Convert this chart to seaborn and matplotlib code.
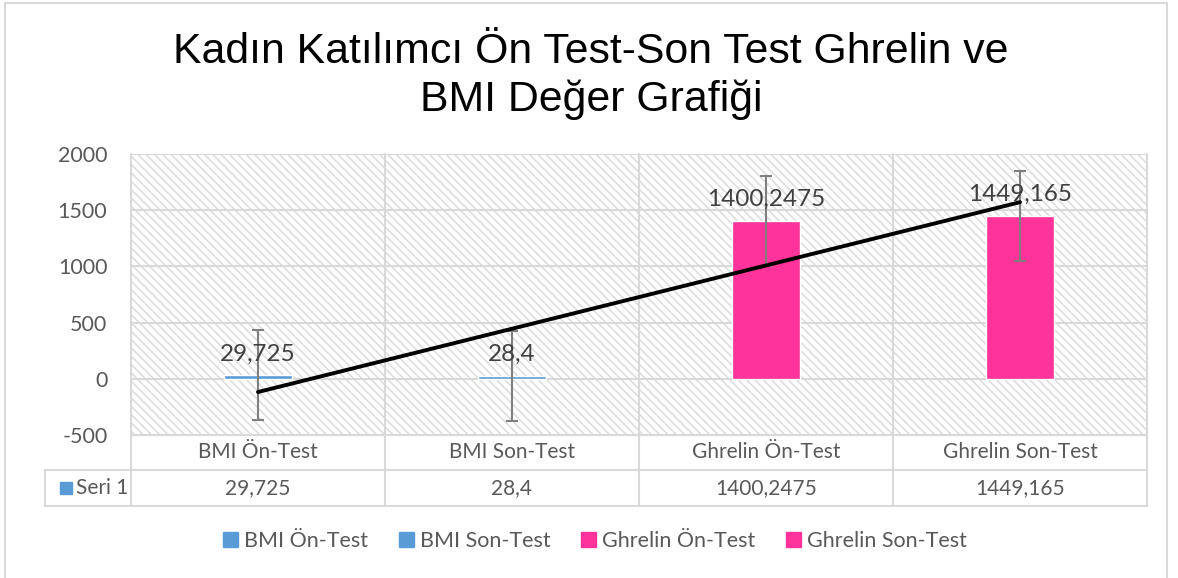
import numpy as np
import matplotlib.pyplot as plt
import seaborn as sns
from matplotlib.patches import Rectangle, Patch
from matplotlib import transforms

# values
categories = ['BMI Ön-Test', 'BMI Son-Test', 'Ghrelin Ön-Test', 'Ghrelin Son-Test']
values = [29.725, 28.4, 1400.2475, 1449.165]
value_labels = ['29,725', '28,4', '1400,2475', '1449,165']
errors = [400, 400, 400, 400]
bar_colors = ['#5b9bd5', '#5b9bd5', '#ff3399', '#ff3399']
series_name = 'Seri 1'
yticks = [-500, 0, 500, 1000, 1500, 2000]
title = 'Kadın Katılımcı Ön Test-Son Test Ghrelin ve\nBMI Değer Grafiği'

sns.set_theme(style='white')
plt.rcParams['font.family'] = ['Lato', 'DejaVu Sans']
plt.rcParams['hatch.linewidth'] = 1.2
plt.rcParams['axes.unicode_minus'] = False

W, H = 1178, 578
grid_c = '#d9d9d9'
text_c = '#595959'

fig = plt.figure(figsize=(W / 100, H / 100), dpi=100)
ax = fig.add_axes([131 / W, 1 - 435 / H, (1147 - 131) / W, (435 - 154) / H])

# hatched plot area
ax.add_patch(Rectangle((0, 0), 1, 1, transform=ax.transAxes, facecolor='white',
                       edgecolor='#dedede', hatch='\\\\\\\\', lw=0, zorder=0))

sns.barplot(x=categories, y=values, hue=categories, palette=bar_colors, width=0.27,
            errorbar=None, legend=False, ax=ax, zorder=2, saturation=1)

x = np.arange(len(categories))
ax.errorbar(x, values, yerr=errors, fmt='none', ecolor='#7f7f7f', elinewidth=1.5,
            capsize=4, capthick=1.5, zorder=3)

# linear trend line
coef = np.polyfit(x, values, 1)
ax.plot(x, np.polyval(coef, x), color='black', lw=2.8, zorder=4, solid_capstyle='round')

for i, lab in enumerate(value_labels):
    ax.annotate(lab, (i, values[i]), xytext=(0, 8), textcoords='offset points',
                ha='center', va='bottom', fontsize=17.5, color='#404040', zorder=5)

ax.set_ylim(-500, 2000)
ax.set_xlim(-0.5, 3.5)
ax.set_yticks(yticks)
ax.grid(axis='y', color=grid_c, lw=1.5)
ax.grid(axis='x', visible=False)
ax.set_axisbelow(True)
ax.tick_params(axis='y', length=0, pad=17, labelsize=15.5, labelcolor=text_c)
ax.tick_params(axis='x', bottom=False, labelbottom=False)
ax.set_xlabel('')
ax.set_ylabel('')
for s in ax.spines.values():
    s.set_visible(False)

# data table under the axis
trans = transforms.blended_transform_factory(ax.transData, ax.transAxes)
px = 1 / 281
r1 = -35 * px
r2 = -71 * px
seri_left = -0.5 - 86 / 254
line_kw = dict(color=grid_c, lw=1.5, transform=trans, clip_on=False, zorder=1)
for b in np.arange(-0.5, 4, 1):
    ax.plot([b, b], [1, r2], **line_kw)
ax.plot([-0.5, 3.5], [0, 0], **line_kw)
ax.plot([seri_left, 3.5], [r1, r1], **line_kw)
ax.plot([seri_left, 3.5], [r2, r2], **line_kw)
ax.plot([seri_left, seri_left], [r1, r2], **line_kw)

for i, (cat, lab) in enumerate(zip(categories, value_labels)):
    ax.text(i, (0 + r1) / 2, cat, transform=trans, ha='center', va='center',
            fontsize=15, color=text_c)
    ax.text(i, (r1 + r2) / 2, lab, transform=trans, ha='center', va='center',
            fontsize=15, color=text_c)
ax.plot([-0.5 - 65 / 254], [(r1 + r2) / 2], marker='s', ms=8.5, color=bar_colors[0],
        transform=trans, clip_on=False)
ax.text(-0.5 - 55 / 254, (r1 + r2) / 2, series_name, transform=trans, ha='left',
        va='center', fontsize=15, color=text_c)

handles = [Patch(color=c, label=cat) for c, cat in zip(bar_colors, categories)]
fig.legend(handles=handles, loc='center', bbox_to_anchor=(595 / W, 1 - 541 / H), ncol=4,
           frameon=False, fontsize=15.5, handlelength=0.7, handleheight=0.7,
           handletextpad=0.3, columnspacing=1.4, labelcolor=text_c)

fig.text(591 / W, 1 - 76 / H, title, ha='center', va='center', fontsize=30.8,
         family=['Liberation Sans', 'DejaVu Sans'], color='black', linespacing=1.25)

fig.patches.append(Rectangle((5 / W, -0.01), (1167 - 5) / W, 1 - 3 / H + 0.01,
                             transform=fig.transFigure, fill=False, edgecolor=grid_c, lw=1.5))

fig.savefig('out.png', dpi=100)
